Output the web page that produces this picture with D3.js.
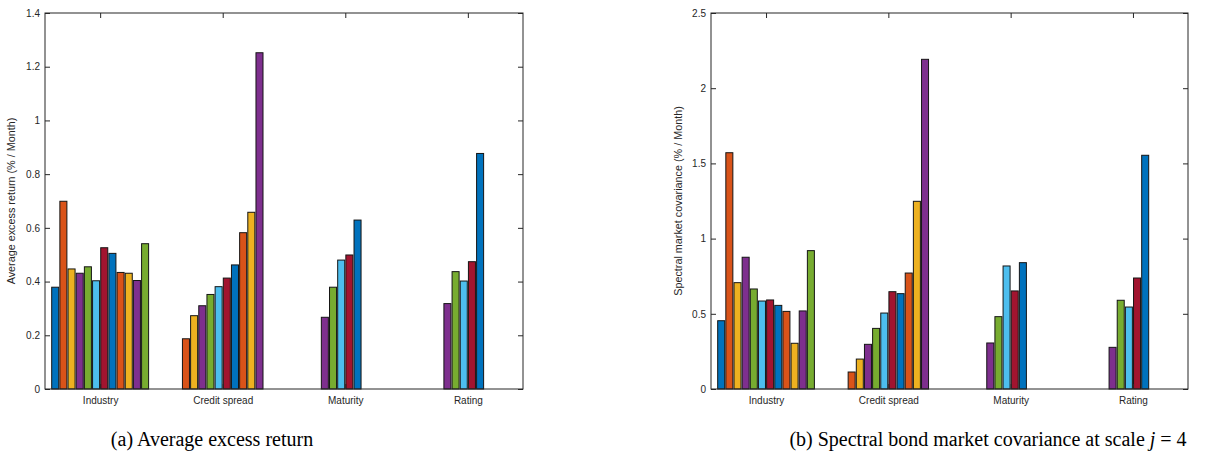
<!DOCTYPE html>
<html>
<head>
<meta charset="utf-8">
<script src="https://cdn.jsdelivr.net/npm/d3@7"></script>
<style>
  body { margin: 0; background: #fff; }
  svg { display: block; }
  .tick text { font-family: "Liberation Sans", Arial, sans-serif; font-size: 10px; fill: #262626; }
  .tick line { stroke: #262626; }
  .caption { font-family: "Liberation Serif", "DejaVu Serif", serif; font-size: 20px; fill: #000; }
</style>
</head>
<body>
<svg width="1208" height="461"></svg>
<script>
// groups on the x axis
var categories = ["Industry", "Credit spread", "Maturity", "Rating"];

// MATLAB default colour order, series cycle through it
var colors = ["#0072BD", "#D95319", "#EDB120", "#7E2F8E", "#77AC30", "#4DBEEE", "#A2142F"];

// (a) average excess return, 12 series per group (null = no bar)
var returnIndustry = [0.379, 0.699, 0.447, 0.431, 0.455, 0.403, 0.526, 0.505, 0.434, 0.431, 0.404, 0.541];
var returnCredit   = [null, 0.187, 0.273, 0.310, 0.352, 0.381, 0.413, 0.462, 0.582, 0.658, 1.252, null];
var returnMaturity = [null, null, null, 0.267, 0.379, 0.480, 0.499, 0.629, null, null, null, null];
var returnRating   = [null, null, null, 0.318, 0.437, 0.402, 0.474, 0.877, null, null, null, null];

// (b) spectral bond market covariance at scale j = 4
var covIndustry = [0.454, 1.571, 0.707, 0.876, 0.665, 0.585, 0.592, 0.556, 0.516, 0.304, 0.519, 0.920];
var covCredit   = [null, 0.113, 0.199, 0.297, 0.403, 0.505, 0.647, 0.634, 0.771, 1.248, 2.192, null];
var covMaturity = [null, null, null, 0.306, 0.481, 0.818, 0.652, 0.840, null, null, null, null];
var covRating   = [null, null, null, 0.277, 0.590, 0.545, 0.738, 1.554, null, null, null, null];

var returnTicks = [0, 0.2, 0.4, 0.6, 0.8, 1, 1.2, 1.4];
var covTicks = [0, 0.5, 1, 1.5, 2, 2.5];

var svg = d3.select("svg");

function drawPanel(opts) {
    var left = opts.left, right = opts.right, top = 13, bottom = 389;
    var g = svg.append("g");

    var x = d3.scaleLinear()
        .domain([0.55, 4.45])
        .range([left, right]);
    var y = d3.scaleLinear()
        .domain([0, opts.max])
        .range([bottom, top]);

    var nSeries = opts.data[0].length;
    var slot = 0.8 / nSeries;
    var bw = x(slot * 0.86) - x(0);

    // bars
    opts.data.forEach(function(row, gi) {
        row.forEach(function(v, si) {
            if (v == null) return;
            var cx = x(gi + 1 + (si - (nSeries - 1) / 2) * slot);
            g.append("rect")
                .attr("x", cx - bw / 2)
                .attr("y", y(v))
                .attr("width", bw)
                .attr("height", y(0) - y(v))
                .attr("fill", colors[si % colors.length])
                .attr("stroke", "#151515")
                .attr("stroke-width", 1);
        });
    });

    // axes, ticks pointing inward like MATLAB
    g.append("g")
        .attr("transform", "translate(" + left + ",0)")
        .call(d3.axisLeft(y).tickValues(opts.ticks).tickSizeInner(-5).tickSizeOuter(0).tickPadding(5)
            .tickFormat(function(d) { return d3.format("")(d); }))
        .call(function(a) { a.select(".domain").remove(); });
    g.append("g")
        .attr("transform", "translate(" + right + ",0)")
        .call(d3.axisRight(y).tickValues(opts.ticks).tickSizeInner(-5).tickSizeOuter(0).tickFormat(""))
        .call(function(a) { a.select(".domain").remove(); });
    g.append("g")
        .attr("transform", "translate(0," + bottom + ")")
        .call(d3.axisBottom(x).tickValues([1, 2, 3, 4]).tickSizeInner(-5).tickSizeOuter(0).tickPadding(8)
            .tickFormat(function(d) { return categories[d - 1]; }))
        .call(function(a) { a.select(".domain").remove(); });
    g.append("g")
        .attr("transform", "translate(0," + top + ")")
        .call(d3.axisTop(x).tickValues([1, 2, 3, 4]).tickSizeInner(-5).tickSizeOuter(0).tickFormat(""))
        .call(function(a) { a.select(".domain").remove(); });

    // box
    g.append("rect")
        .attr("x", left).attr("y", top)
        .attr("width", right - left).attr("height", bottom - top)
        .attr("fill", "none")
        .attr("stroke", "#262626")
        .attr("stroke-width", 1);

    // y label
    g.append("text")
        .attr("transform", "translate(" + opts.labelX + "," + (top + bottom) / 2 + ") rotate(-90)")
        .attr("text-anchor", "middle")
        .style("font-family", "Liberation Sans, Arial, sans-serif")
        .style("font-size", "10.8px")
        .style("fill", "#262626")
        .text(opts.ylabel);

    // caption
    var cap = svg.append("text")
        .attr("class", "caption")
        .attr("x", opts.capX)
        .attr("y", 446)
        .attr("text-anchor", "middle");
    opts.caption.forEach(function(part) {
        cap.append("tspan")
            .style("font-style", part.italic ? "italic" : "normal")
            .text(part.t);
    });
}

drawPanel({
    left: 45, right: 523, max: 1.4, ticks: returnTicks,
    data: [returnIndustry, returnCredit, returnMaturity, returnRating],
    ylabel: "Average excess return (% / Month)", labelX: 15,
    caption: [{ t: "(a)  Average excess return" }], capX: 212
});

drawPanel({
    left: 711, right: 1188, max: 2.5, ticks: covTicks,
    data: [covIndustry, covCredit, covMaturity, covRating],
    ylabel: "Spectral market covariance (% / Month)", labelX: 682,
    caption: [{ t: "(b)  Spectral bond market covariance at scale " }, { t: "j", italic: true }, { t: " = 4" }], capX: 988
});
</script>
</body>
</html>
